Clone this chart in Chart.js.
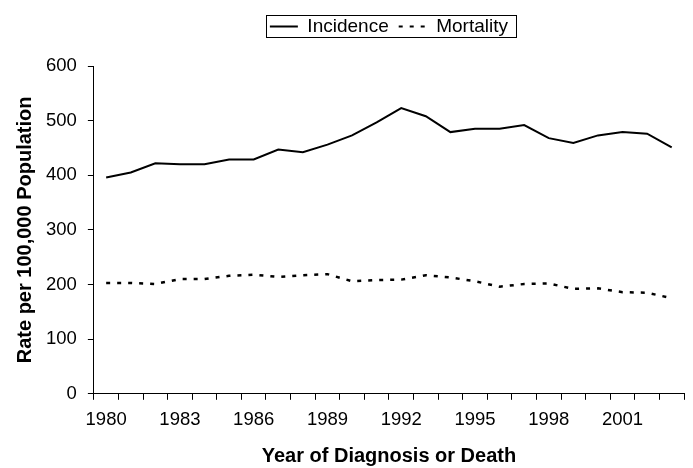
<!DOCTYPE html>
<html>
<head>
<meta charset="utf-8">
<script src="https://cdn.jsdelivr.net/npm/chart.js@4/dist/chart.umd.min.js"></script>
<style>
    html, body { margin: 0; padding: 0; background: #fff; }
    #wrap { width: 693px; height: 468px; }
</style>
</head>
<body>
<div id="wrap"><canvas id="chart"></canvas></div>
<script>
var years = ['1980', '1981', '1982', '1983', '1984', '1985', '1986', '1987', '1988', '1989', '1990', '1991',
    '1992', '1993', '1994', '1995', '1996', '1997', '1998', '1999', '2000', '2001', '2002', '2003'];
var incidence = [396, 405, 422, 420, 420, 429, 429, 447, 442, 456, 473, 497,
    523, 508, 479, 485, 485, 492, 468, 459, 473, 479, 476, 451];
var mortality = [203, 203, 201, 210, 210, 216, 218, 214, 217, 219, 206, 208,
    209, 217, 213, 206, 196, 201, 202, 192, 193, 186, 185, 175];
var yTicks = [0, 100, 200, 300, 400, 500, 600];

var fontFamily = '"Liberation Sans", Arial, sans-serif';
var dotted = [4, 7];

// legend: more room under it, centred over the plot, with a box round it
var legendBox = {
    id: 'legendBox',
    beforeInit: function (chart) {
        var fit = chart.legend.fit;
        chart.legend.fit = function () {
            fit.bind(chart.legend)();
            this.height += 20;
        };
    },
    beforeDraw: function (chart) {
        var legend = chart.legend;
        legend.left = chart.chartArea.left;
        legend.right = chart.chartArea.right;
        legend.width = legend.right - legend.left;
    },
    afterDraw: function (chart) {
        var legend = chart.legend;
        var boxes = legend.legendHitBoxes;
        if (!boxes || !boxes.length) return;
        var pad = legend.options.labels.padding;
        var lw = legend.lineWidths[0];
        var x0 = (legend.left + pad + legend.right - lw) / 2;
        var x1 = x0 + lw - pad;
        var top = legend.top + pad;
        var ctx = chart.ctx;
        ctx.save();
        ctx.strokeStyle = '#000';
        ctx.lineWidth = 1;
        ctx.setLineDash([]);
        ctx.strokeRect(Math.round(x0 - 4) + 0.5, Math.round(top - 2) + 0.5, Math.round(x1 - x0 + 12), Math.round(boxes[0].height + 3));
        ctx.restore();
    }
};

new Chart(document.getElementById('chart').getContext('2d'), {
    type: 'line',
    data: {
        labels: years,
        datasets: [
            {
                label: 'Incidence',
                data: incidence,
                borderColor: '#000',
                backgroundColor: '#000',
                borderWidth: 2,
                pointRadius: 0,
                tension: 0
            },
            {
                label: 'Mortality',
                data: mortality,
                borderColor: '#000',
                backgroundColor: '#000',
                borderWidth: 2.5,
                borderDash: dotted,
                pointRadius: 0,
                tension: 0
            }
        ]
    },
    options: {
        responsive: true,
        maintainAspectRatio: false,
        animation: false,
        layout: { padding: { left: 15, right: 9, top: 7, bottom: 2 } },
        plugins: {
            tooltip: { enabled: false },
            legend: {
                position: 'top',
                labels: {
                    usePointStyle: true,
                    pointStyle: 'line',
                    pointStyleWidth: 28,
                    boxHeight: 18,
                    color: '#000',
                    padding: 10,
                    font: { family: fontFamily, size: 19 },
                    generateLabels: function (chart) {
                        var items = Chart.defaults.plugins.legend.labels.generateLabels(chart);
                        items.forEach(function (item) {
                            item.lineWidth = 2;
                            item.lineDash = item.datasetIndex === 1 ? dotted : [];
                        });
                        return items;
                    }
                }
            }
        },
        scales: {
            x: {
                offset: true,
                grid: { offset: true, drawOnChartArea: false, drawTicks: true, tickLength: 6, color: '#000' },
                border: { color: '#000', width: 1 },
                ticks: {
                    autoSkip: false,
                    maxRotation: 0,
                    color: '#000',
                    padding: 9,
                    font: { family: fontFamily, size: 18.5 },
                    callback: function (value, index) {
                        return index % 3 === 0 ? years[index] : '';
                    }
                },
                title: {
                    display: true,
                    text: 'Year of Diagnosis or Death',
                    color: '#000',
                    font: { family: fontFamily, size: 20, weight: 'bold', lineHeight: 1 },
                    padding: { top: 6, bottom: 0 }
                }
            },
            y: {
                min: yTicks[0],
                max: yTicks[yTicks.length - 1],
                grid: { drawOnChartArea: false, drawTicks: true, tickLength: 6, color: '#000' },
                border: { color: '#000', width: 1 },
                ticks: {
                    stepSize: 100,
                    color: '#000',
                    padding: 11,
                    font: { family: fontFamily, size: 18.5 }
                },
                title: {
                    display: true,
                    text: 'Rate per 100,000 Population',
                    color: '#000',
                    font: { family: fontFamily, size: 20, weight: 'bold', lineHeight: 1 },
                    padding: { top: 0, bottom: 0 }
                }
            }
        }
    },
    plugins: [legendBox]
});
</script>
</body>
</html>
